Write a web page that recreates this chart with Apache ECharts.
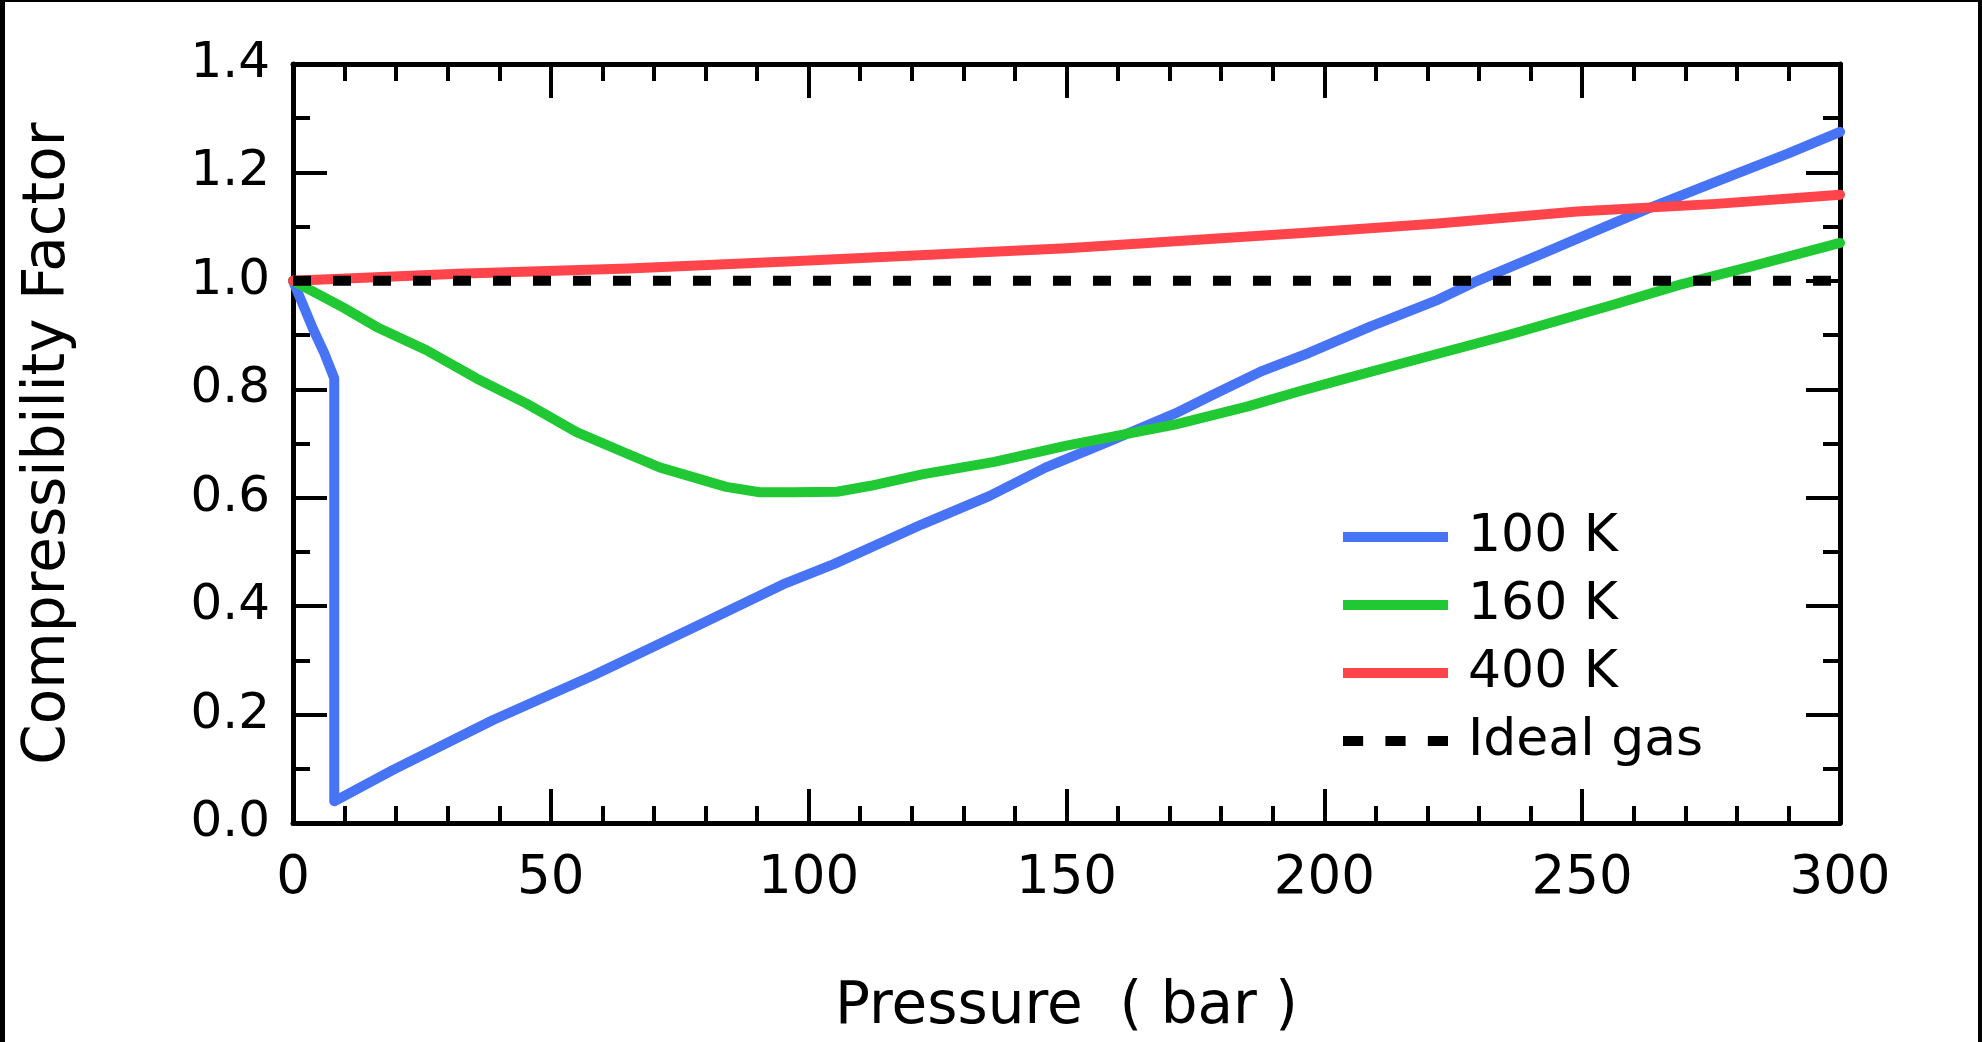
<!DOCTYPE html>
<html>
<head>
<meta charset="utf-8">
<script src="https://cdn.jsdelivr.net/npm/echarts@6/dist/echarts.min.js"></script>
<style>
html, body { margin: 0; padding: 0; background: #fff; }
#chart { width: 1982px; height: 1042px; }
</style>
</head>
<body>
<div id="chart"></div>
<script>
// ---- data ----
const xTicks = [0, 50, 100, 150, 200, 250, 300];
const yTicks = ['0.0', '0.2', '0.4', '0.6', '0.8', '1.0', '1.2', '1.4'];

const seriesNames = ['100 K', '160 K', '400 K', 'Ideal gas'];

const p100 = [0, 3.9, 6.1, 8, 8, 19.4, 38.8, 58.2, 77.6, 95, 105, 122, 135, 146, 157, 171, 178, 188, 197, 209, 222, 229, 242.5, 256, 263, 276, 290, 300];
const z100 = [1.0, 0.911, 0.866, 0.82, 0.04, 0.098, 0.19, 0.272, 0.36, 0.44, 0.478, 0.551, 0.603, 0.656, 0.699, 0.755, 0.788, 0.834, 0.867, 0.916, 0.965, 0.997, 1.051, 1.106, 1.134, 1.183, 1.235, 1.275];

const p160 = [0, 9.7, 16.2, 25.9, 35.6, 45.2, 55, 64.6, 71.1, 84, 90.5, 97, 105.5, 112, 122, 136, 150, 157, 171, 185, 195, 203, 215.5, 236, 256, 269, 283, 300];
const z160 = [1.0, 0.951, 0.915, 0.872, 0.82, 0.774, 0.721, 0.682, 0.656, 0.62, 0.61, 0.61, 0.611, 0.622, 0.643, 0.666, 0.696, 0.709, 0.735, 0.768, 0.796, 0.817, 0.849, 0.901, 0.956, 0.993, 1.027, 1.07];

const p400 = [0, 32, 65, 97, 150, 195, 222, 249, 276, 300];
const z400 = [1.0, 1.013, 1.023, 1.036, 1.06, 1.088, 1.106, 1.128, 1.142, 1.159];

const pIdeal = [0, 300];
const zIdeal = [1, 1];

// ---- build ----
const zip = (xs, ys) => xs.map((x, i) => [x, ys[i]]);
const FONT = '"DejaVu Sans", "Noto Sans", sans-serif';
const colors = ['#4773F5', '#20C933', '#FF444B', '#000000'];

const axisLine = { show: true, onZero: false, lineStyle: { color: '#000', width: 5 } };
const majorTick = { show: true, inside: true, length: 34, lineStyle: { color: '#000', width: 4 } };

function xAxisDef(pos, withLabels) {
  return {
    type: 'value', position: pos,
    min: xTicks[0], max: xTicks[xTicks.length - 1], interval: xTicks[1] - xTicks[0],
    axisLine: axisLine,
    axisTick: majorTick,
    minorTick: { show: true, splitNumber: 5, length: 17, lineStyle: { color: '#000', width: 4 } },
    splitLine: { show: false },
    minorSplitLine: { show: false },
    axisLabel: withLabels ? {
      show: true, margin: 30, fontSize: 53, color: '#000', fontFamily: FONT,
      showMinLabel: true, showMaxLabel: true
    } : { show: false },
    name: withLabels ? 'Pressure  ( bar )' : '',
    nameLocation: 'middle', nameGap: 156,
    nameTextStyle: { fontSize: 58, color: '#000', fontFamily: FONT }
  };
}
function yAxisDef(pos, withLabels) {
  return {
    type: 'value', position: pos,
    min: parseFloat(yTicks[0]), max: parseFloat(yTicks[yTicks.length - 1]),
    interval: parseFloat(yTicks[1]) - parseFloat(yTicks[0]),
    axisLine: axisLine,
    axisTick: majorTick,
    minorTick: { show: true, splitNumber: 2, length: 17, lineStyle: { color: '#000', width: 4 } },
    splitLine: { show: false },
    minorSplitLine: { show: false },
    axisLabel: withLabels ? {
      show: true, margin: 23, fontSize: 50, color: '#000', fontFamily: FONT,
      showMinLabel: true, showMaxLabel: true,
      formatter: v => v.toFixed(1)
    } : { show: false },
    name: withLabels ? 'Compressibility Factor' : '',
    nameLocation: 'middle', nameGap: 215,
    nameTextStyle: { fontSize: 58, color: '#000', fontFamily: FONT }
  };
}

function lineSeries(name, data, color, dashed) {
  return {
    name: name, type: 'line', data: data,
    xAxisIndex: 0, yAxisIndex: 0,
    symbol: 'none', showSymbol: false, smooth: false,
    itemStyle: { color: color },
    lineStyle: dashed
      ? { color: color, width: 10, type: [18, 22], cap: 'butt' }
      : { color: color, width: 10, cap: 'round', join: 'round' },
    emphasis: { disabled: true },
    silent: true
  };
}

// legend keys: solid bar for the temperature curves, three dashes for the ideal gas
const dashIcon = 'path://M0,0h19v10h-19z M40,0h19v10h-19z M80,0h19v10h-19z';
const legendData = seriesNames.map((n, i) => ({ name: n, icon: i === 3 ? dashIcon : 'rect' }));

const chart = echarts.init(document.getElementById('chart'), null, { renderer: 'canvas' });
chart.setOption({
  animation: false,
  backgroundColor: '#fff',
  grid: { left: 293, right: 142, top: 64, bottom: 218, containLabel: false },
  xAxis: [xAxisDef('bottom', true), xAxisDef('top', false)],
  yAxis: [yAxisDef('left', true), yAxisDef('right', false)],
  legend: {
    orient: 'vertical', left: 1338, top: 502,
    itemWidth: 105, itemHeight: 10, itemGap: 8,
    symbolKeepAspect: false,
    selectedMode: false,
    itemStyle: { borderWidth: 0 },
    textStyle: { fontSize: 52, lineHeight: 60, color: '#000', fontFamily: FONT, padding: [0, 0, 0, 15] },
    data: legendData
  },
  graphic: [
    { type: 'rect', shape: { x: 0, y: 0, width: 5, height: 1042 }, style: { fill: '#000' }, silent: true },
    { type: 'rect', shape: { x: 0, y: 0, width: 1982, height: 2 }, style: { fill: '#000' }, silent: true },
    { type: 'rect', shape: { x: 1978, y: 0, width: 4, height: 1042 }, style: { fill: '#000' }, silent: true }
  ],
  series: [
    lineSeries(seriesNames[0], zip(p100, z100), colors[0], false),
    lineSeries(seriesNames[1], zip(p160, z160), colors[1], false),
    lineSeries(seriesNames[2], zip(p400, z400), colors[2], false),
    lineSeries(seriesNames[3], zip(pIdeal, zIdeal), colors[3], true)
  ]
});
</script>
</body>
</html>
